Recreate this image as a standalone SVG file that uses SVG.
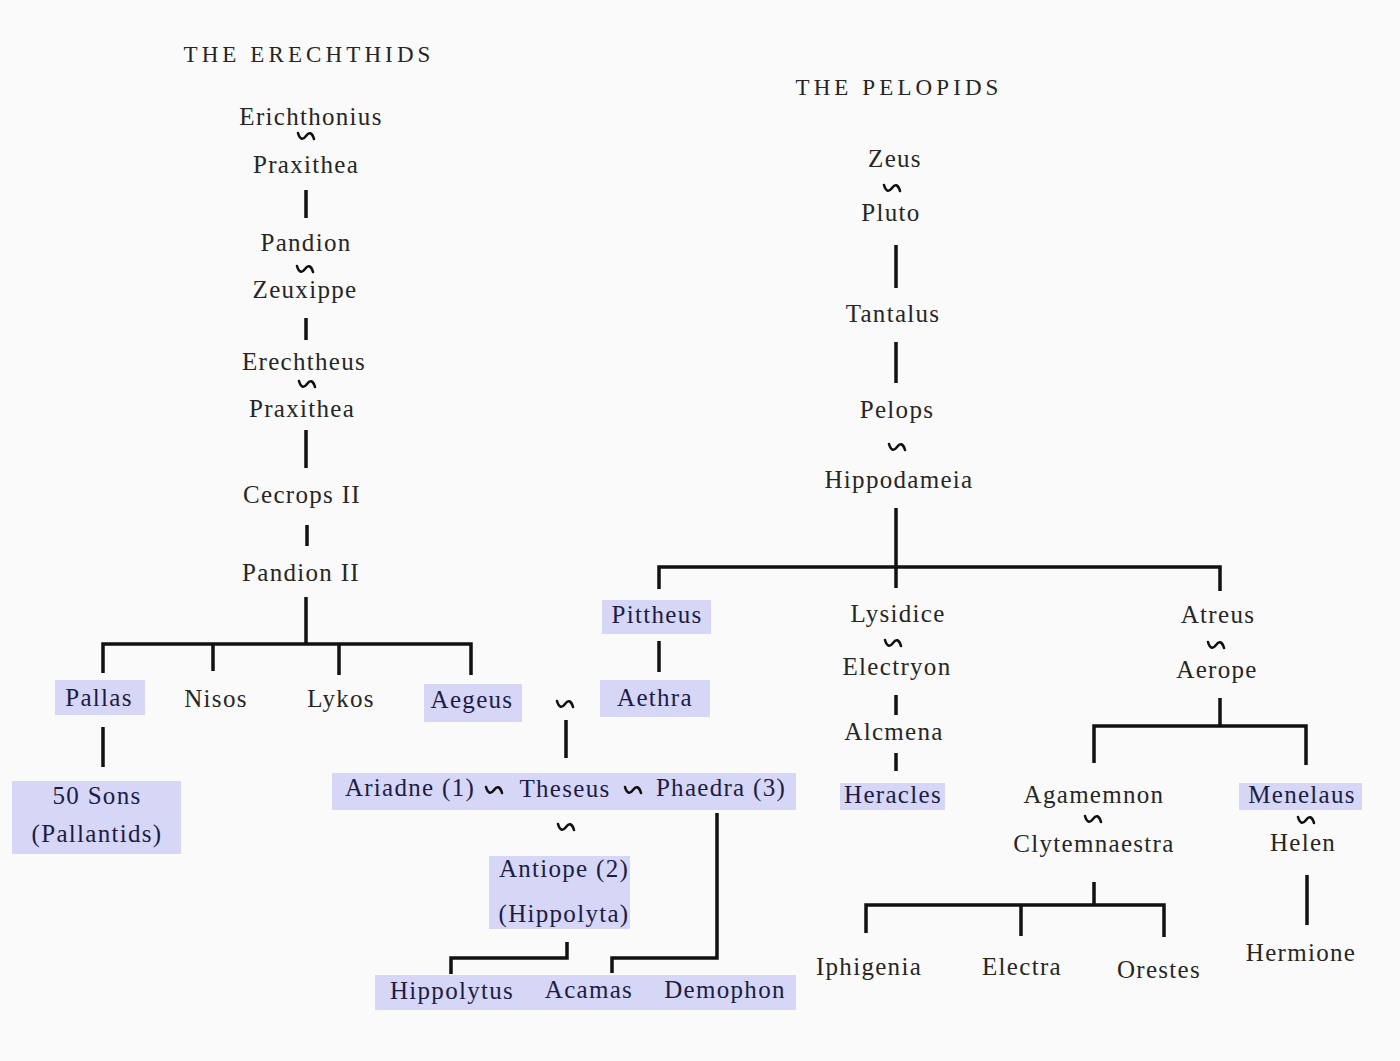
<svg xmlns="http://www.w3.org/2000/svg" xmlns:xlink="http://www.w3.org/1999/xlink" width="1400" height="1061" viewBox="0 0 1400 1061">
<style>
text{font-family:"Liberation Serif","Times New Roman",serif;font-size:25px;fill:#262626;text-anchor:middle;letter-spacing:1.3px}
.title{font-size:23px;letter-spacing:4.1px}
.hl{fill:#d6d6f6}
.hl-t{fill:#1c1c44}
.ln{stroke:#111;stroke-width:3.5;fill:none;stroke-linecap:butt}
.mar{stroke:#111;stroke-width:2.6;fill:none;stroke-linecap:round}
</style>
<defs>
<path id="m" class="mar" d="M -8,-3 C -6,4 -3,4 0,0 C 3,-4 6,-4 8,3"/>
</defs>
<rect x="0" y="0" width="1400" height="1061" fill="#fafafa"/>

<g id="titles">
<text class="title" x="309" y="62">THE  ERECHTHIDS</text>
<text class="title" x="899" y="95">THE  PELOPIDS</text>
</g>

<g id="connectors">
<line class="ln" x1="306" y1="190" x2="306" y2="218"/>
<line class="ln" x1="306" y1="318" x2="306" y2="340"/>
<line class="ln" x1="306" y1="430" x2="306" y2="468"/>
<line class="ln" x1="307" y1="525" x2="307" y2="546"/>
<line class="ln" x1="306" y1="597" x2="306" y2="644"/>
<polyline class="ln" points="103,673 103,644 471,644 471,675"/>
<line class="ln" x1="213" y1="644" x2="213" y2="671"/>
<line class="ln" x1="339" y1="644" x2="339" y2="675"/>
<line class="ln" x1="103" y1="727" x2="103" y2="767"/>
<line class="ln" x1="566" y1="720" x2="566" y2="758"/>
<polyline class="ln" points="567,942 567,958 451,958 451,974"/>
<polyline class="ln" points="717,813 717,958 612,958 612,973"/>

<line class="ln" x1="896" y1="245" x2="896" y2="288"/>
<line class="ln" x1="896" y1="342" x2="896" y2="383"/>
<line class="ln" x1="896" y1="508" x2="896" y2="588"/>
<polyline class="ln" points="659,589 659,567 1220,567 1220,591"/>
<line class="ln" x1="659" y1="641" x2="659" y2="672"/>
<line class="ln" x1="896" y1="695" x2="896" y2="715"/>
<line class="ln" x1="896" y1="753" x2="896" y2="771"/>
<line class="ln" x1="1220" y1="698" x2="1220" y2="726"/>
<polyline class="ln" points="1094,763 1094,726 1306,726 1306,765"/>
<line class="ln" x1="1307" y1="875" x2="1307" y2="925"/>
<line class="ln" x1="1094" y1="882" x2="1094" y2="905"/>
<polyline class="ln" points="866,933 866,905 1164,905 1164,937"/>
<line class="ln" x1="1021" y1="905" x2="1021" y2="936"/>
</g>

<g id="marriages">
<use xlink:href="#m" x="306" y="136"/>
<use xlink:href="#m" x="305" y="269"/>
<use xlink:href="#m" x="307" y="384"/>
<use xlink:href="#m" x="565" y="704"/>
<use xlink:href="#m" x="566" y="827"/>
<use xlink:href="#m" x="892" y="188"/>
<use xlink:href="#m" x="897" y="447"/>
<use xlink:href="#m" x="893" y="643"/>
<use xlink:href="#m" x="1216" y="645"/>
<use xlink:href="#m" x="1093" y="819"/>
<use xlink:href="#m" x="1306" y="820"/>
</g>

<g id="erichthonius"><text x="311" y="125">Erichthonius</text></g>
<g id="praxithea1"><text x="306" y="173">Praxithea</text></g>
<g id="pandion"><text x="306" y="251">Pandion</text></g>
<g id="zeuxippe"><text x="305" y="298">Zeuxippe</text></g>
<g id="erechtheus"><text x="304" y="370">Erechtheus</text></g>
<g id="praxithea2"><text x="302" y="417">Praxithea</text></g>
<g id="cecrops"><text x="302" y="503">Cecrops II</text></g>
<g id="pandion2"><text x="301" y="581">Pandion II</text></g>

<g id="pallas"><rect class="hl" x="55" y="680" width="90" height="35"/><text class="hl-t" x="99" y="706">Pallas</text></g>
<g id="nisos"><text x="216" y="707">Nisos</text></g>
<g id="lykos"><text x="341" y="707">Lykos</text></g>
<g id="aegeus"><rect class="hl" x="424" y="684" width="98" height="38"/><text class="hl-t" x="472" y="708">Aegeus</text></g>
<g id="sons"><rect class="hl" x="12" y="781" width="169" height="73"/><text class="hl-t" x="97" y="804">50 Sons</text><text class="hl-t" x="97" y="842">(Pallantids)</text></g>

<g id="theseus-row"><rect class="hl" x="332" y="773" width="464" height="37"/>
<text class="hl-t" x="410" y="796">Ariadne (1)</text>
<use xlink:href="#m" x="494" y="790"/>
<text class="hl-t" x="565" y="797">Theseus</text>
<use xlink:href="#m" x="633" y="790"/>
<text class="hl-t" x="721" y="796">Phaedra (3)</text>
</g>
<g id="antiope"><rect class="hl" x="489" y="856" width="141" height="73"/><text class="hl-t" x="564" y="877">Antiope (2)</text><text class="hl-t" x="564" y="922">(Hippolyta)</text></g>
<g id="children"><rect class="hl" x="375" y="975" width="421" height="35"/>
<text class="hl-t" x="452" y="999">Hippolytus</text>
<text class="hl-t" x="589" y="998">Acamas</text>
<text class="hl-t" x="725" y="998">Demophon</text>
</g>

<g id="zeus"><text x="895" y="167">Zeus</text></g>
<g id="pluto"><text x="891" y="221">Pluto</text></g>
<g id="tantalus"><text x="893" y="322">Tantalus</text></g>
<g id="pelops"><text x="897" y="418">Pelops</text></g>
<g id="hippodameia"><text x="899" y="488">Hippodameia</text></g>
<g id="pittheus"><rect class="hl" x="602" y="600" width="109" height="34"/><text class="hl-t" x="657" y="623">Pittheus</text></g>
<g id="aethra"><rect class="hl" x="600" y="680" width="110" height="37"/><text class="hl-t" x="655" y="706">Aethra</text></g>
<g id="lysidice"><text x="898" y="622">Lysidice</text></g>
<g id="electryon"><text x="897" y="675">Electryon</text></g>
<g id="alcmena"><text x="894" y="740">Alcmena</text></g>
<g id="heracles"><rect class="hl" x="840" y="783" width="105" height="27"/><text class="hl-t" x="893" y="803">Heracles</text></g>
<g id="atreus"><text x="1218" y="623">Atreus</text></g>
<g id="aerope"><text x="1217" y="678">Aerope</text></g>
<g id="agamemnon"><text x="1094" y="803">Agamemnon</text></g>
<g id="clytemnaestra"><text x="1094" y="852">Clytemnaestra</text></g>
<g id="menelaus"><rect class="hl" x="1239" y="783" width="123" height="27"/><text class="hl-t" x="1302" y="803">Menelaus</text></g>
<g id="helen"><text x="1303" y="851">Helen</text></g>
<g id="hermione"><text x="1301" y="961">Hermione</text></g>
<g id="iphigenia"><text x="869" y="975">Iphigenia</text></g>
<g id="electra"><text x="1022" y="975">Electra</text></g>
<g id="orestes"><text x="1159" y="978">Orestes</text></g>
</svg>
